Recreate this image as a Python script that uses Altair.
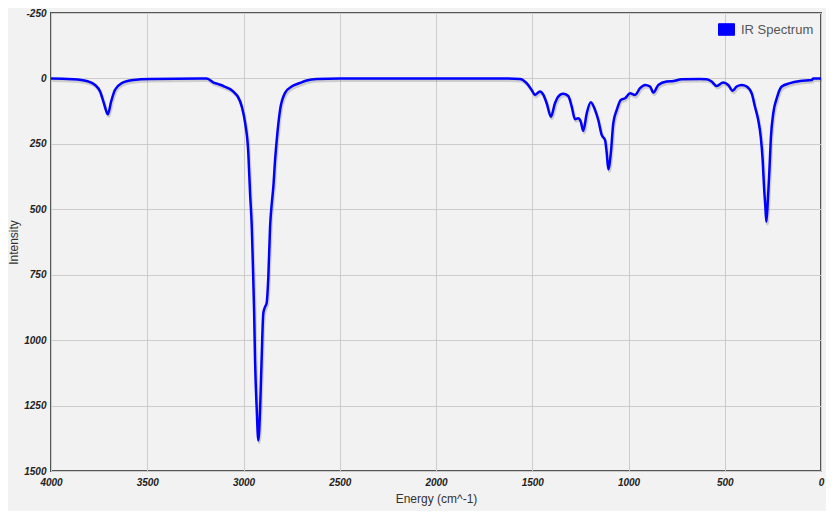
import altair as alt
import pandas as pd

energy = [4000, 3996, 3884, 3815, 3771, 3745, 3725, 3705, 3688, 3668, 3633, 3572, 3486,
          3226, 3191, 3184, 3160, 3130, 3105, 3080, 3061, 3040, 3029, 3009, 2992, 2975,
          2966, 2957, 2952, 2945, 2940, 2931, 2923, 2914, 2906, 2897, 2888, 2880, 2871,
          2862, 2853, 2845, 2836, 2824, 2810, 2784, 2750, 2706, 2672, 2620, 2499, 1668,
          1564, 1529, 1503, 1486, 1460, 1442, 1425, 1403, 1382, 1356, 1339, 1313, 1295,
          1278, 1261, 1248, 1235, 1217, 1196, 1174, 1157, 1139, 1122, 1113, 1105, 1092,
          1079, 1061, 1040, 1018, 992, 966, 940, 914, 888, 871, 845, 802, 767, 724, 629,
          594, 568, 542, 508, 482, 459, 438, 412, 386, 360, 343, 326, 313, 303, 296, 289,
          284, 277, 268, 260, 248, 230, 204, 161, 109, 48, 40, 0]
intensity = [0, 0, 3, 10, 25, 50, 95, 137, 89, 44, 18, 6, 2,
             0, 0, 2, 14, 22, 29, 37, 45, 60, 70, 108, 168, 285,
             438, 567, 695, 886, 1077, 1269, 1383, 1269, 1077, 897, 873, 859, 758,
             567, 476, 414, 312, 209, 120, 55, 31, 17, 8, 2, 0, 0,
             2, 18, 44, 63, 50, 63, 95, 146, 95, 63, 59, 67, 108,
             156, 152, 165, 200, 133, 91, 120, 159, 216, 235, 286, 347, 286,
             171, 120, 82, 76, 57, 63, 37, 25, 31, 54, 25, 12, 10, 3, 2,
             3, 12, 29, 16, 25, 47, 31, 25, 31, 57, 108, 159, 223, 312, 414, 491,
             548, 478, 350, 223, 133, 76, 31, 18, 10, 6, 0, 0]
series_name = "IR Spectrum"
x_ticks = [0, 500, 1000, 1500, 2000, 2500, 3000, 3500, 4000]
y_ticks = [-250, 0, 250, 500, 750, 1000, 1250, 1500]

df = pd.DataFrame({"energy": energy, "intensity": intensity, "series": series_name})

FONT = "Liberation Sans"

x_enc = alt.X("energy:Q", scale=alt.Scale(domain=[0, 4000], reverse=True, nice=False),
              axis=alt.Axis(values=x_ticks, title="Energy (cm^-1)", labelExpr="'' + datum.value",
                            labelFlush=False, labelPadding=6, titlePadding=6))
y_enc = alt.Y("intensity:Q", scale=alt.Scale(domain=[-250, 1500], reverse=True, nice=False),
              axis=alt.Axis(values=y_ticks, title="Intensity", labelExpr="'' + datum.value",
                            labelFlush=False, labelPadding=5, titlePadding=3))

shadow = alt.Chart(df).mark_line(
    interpolate="monotone", stroke="#777777", strokeWidth=3, opacity=0.3, xOffset=1, yOffset=2
).encode(x=x_enc, y=y_enc)

line = alt.Chart(df).mark_line(interpolate="monotone", strokeWidth=2.5).encode(
    x=x_enc, y=y_enc,
    color=alt.Color("series:N",
                    scale=alt.Scale(domain=[series_name], range=["#0000ff"]),
                    legend=alt.Legend(title=None, orient="none", legendX=667, legendY=8,
                                      symbolType="M-1,-0.72L1,-0.72L1,0.72L-1,0.72Z",
                                      symbolSize=256,
                                      symbolFillColor="#0000ff", symbolStrokeColor="#cccccc",
                                      symbolStrokeWidth=1, labelFontSize=13,
                                      labelColor="#555555", labelFont=FONT, labelOffset=6))
)

chart = alt.layer(shadow, line).properties(
    width=770, height=458,
    background="#f2f2f2",
    autosize=alt.AutoSizeParams(type="none"),
    padding={"left": 43, "top": 5, "right": 5, "bottom": 40},
).configure_view(
    stroke="#555555", strokeWidth=2, fill="#f2f2f2"
).configure_axis(
    domain=False, ticks=False, grid=True, gridColor="#cccccc", gridWidth=1,
    labelFont=FONT, labelFontSize=10, labelFontStyle="italic", labelFontWeight="bold",
    labelColor="#222222", titleFont=FONT, titleFontSize=12, titleFontWeight="normal",
    titleColor="#333333"
)

chart.save("out.html", embed_options={"renderer": "svg", "actions": False})
